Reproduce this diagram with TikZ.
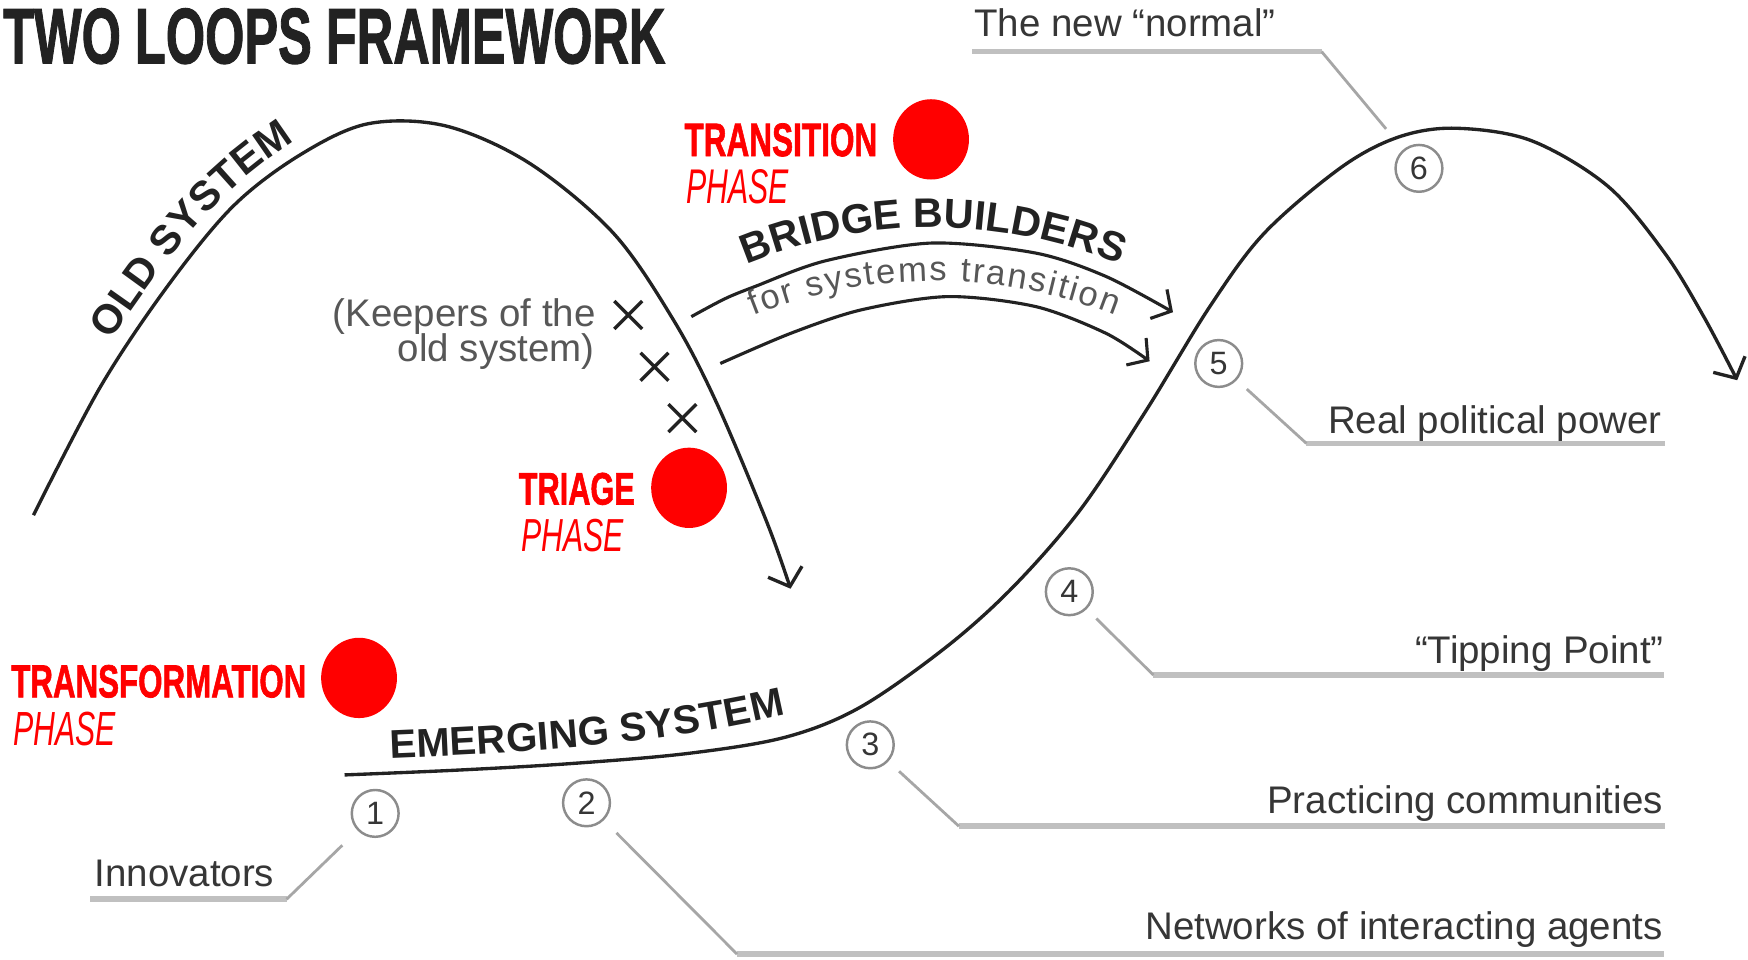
\documentclass[tikz,border=0pt]{standalone}
\usepackage{graphicx}
\usepackage{fontspec}
\setmainfont{Liberation Sans}
\newfontface\heavyface[FakeBold=1.6]{Liberation Sans Bold}
\usetikzlibrary{arrows.meta,decorations.text,shapes.geometric,shapes.misc}
\definecolor{ink}{HTML}{222222}
\definecolor{redph}{HTML}{FF0000}
\definecolor{lbl}{HTML}{363636}
\definecolor{keep}{HTML}{575757}
\definecolor{ring}{HTML}{8C8C8C}
\definecolor{lead}{HTML}{A6A6A6}
\definecolor{uln}{HTML}{C0C0C0}
\newcommand\fsz[1]{\fontsize{#1}{#1}\selectfont}
\begin{document}
\begin{tikzpicture}[x=0.25pt,y=-0.25pt,
  curve/.style={draw=ink, line width=0.75pt, -{Straight Barb[length=3.5pt,width=8pt]}},
  bridge/.style={draw=ink, line width=0.7pt, -{Straight Barb[length=3.25pt,width=7.5pt]}},
  reddot/.style={ellipse, fill=redph, minimum width=17pt, minimum height=18pt, inner sep=0pt},
  redtxt/.style={anchor=base west, inner sep=0pt, text=redph},
  numc/.style={circle, draw=ring, line width=0.55pt, minimum size=10.5pt, inner sep=0pt, font=\fsz{7.25}, text=lbl},
  leader/.style={draw=lead, line width=0.625pt},
  uline/.style={draw=uln, line width=1.25pt},
  lab/.style={inner sep=0pt, font=\fsz{8.625}, text=lbl},
  keeper/.style={inner sep=0pt, font=\fsz{8.625}, text=keep, anchor=base east},
  xmark/.style={cross out, draw=ink, line width=0.75pt, minimum size=5.5pt, inner sep=0pt}
]
\fill[white] (0,0) rectangle (1567.7,860.1);
\useasboundingbox (0,0) rectangle (1567.7,860.1);

% title
\node[anchor=base west, inner sep=0pt, text=ink] (title) at (2,56.8)
  {\resizebox{148.5pt}{12.325pt}{\heavyface TWO LOOPS FRAMEWORK}};

% old system curve
\draw[curve] plot[smooth, tension=0.55] coordinates {(30,462) (90,347) (150,257) (209,185) (269,139) (330,111) (400,113) (475,146.5) (550,209) (604,287) (643,362) (688,469) (709,528)};
\path[decorate, decoration={text along path, text align=left, raise=3.5pt, text color=ink,
  text={|\fsz{9.25}\bfseries|OLD SYSTEM}}]
  (111,313) .. controls (173.7,222.8) and (205.4,176) .. (300,121);

% emerging system curve
\draw[curve] plot[smooth, tension=0.55] coordinates {(309,695) (412,690.6) (515,684.6) (618,675.6) (705,661) (772,634) (849,580) (909,526) (969,457) (1028,368) (1085,275) (1134,209) (1203,150) (1254,123) (1305,115) (1373,126) (1442,167) (1493,227) (1528,284) (1558,341)};
\path[decorate, decoration={text along path, text align=fit to path, text color=ink,
  text={|\fsz{9}\bfseries|EMERGING SYSTEM}}]
  (350,680) .. controls (470,675) and (585,668.6) .. (705,641);

% bridge builders
\draw[bridge] plot[smooth] coordinates {(620,284) (650,268) (677,257) (740,234) (835,218) (929,227) (992,248) (1052,280)};
\draw[bridge] plot[smooth] coordinates {(646,326) (709,299) (772,278) (850,266) (929,275) (992,299) (1031,324)};
\path[decorate, decoration={text along path, text align=center, text color=ink,
  text={|\fsz{9.25}\bfseries|BRIDGE BUILDERS}}]
  (652.3,245) .. controls (769.4,190.4) and (904.6,190.4) .. (1021.7,245);
\path[decorate, decoration={text along path, text align=fit to path, text color=keep,
  text={|\fsz{7.75}|for systems transition}}]
  (675.7,283) .. controls (780,241.7) and (896,241.7) .. (1000.3,283);

% keepers
\node[keeper] (k1) at (535,293) {(Keepers of the};
\node[keeper] (k2) at (534,324) {old system)};
\node[xmark] (x1) at (563.5,282.5) {};
\node[xmark] (x2) at (587,329) {};
\node[xmark] (x3) at (612,375) {};

% red phases
\node[reddot] (d1) at (835,125) {};
\node[reddot] (d2) at (618,437.5) {};
\node[reddot] (d3) at (322,608) {};
\node[redtxt] (p1) at (613,140) {\resizebox{43.25pt}{7.35pt}{\heavyface TRANSITION}};
\node[redtxt] (p1b) at (614.5,182.9) {\resizebox{23pt}{7.625pt}{\itshape PHASE}};
\node[redtxt] (p2) at (464.5,452.5) {\resizebox{26pt}{7.125pt}{\heavyface TRIAGE}};
\node[redtxt] (p2b) at (466.5,494.8) {\resizebox{23pt}{7.25pt}{\itshape PHASE}};
\node[redtxt] (p3) at (9.3,625.4) {\resizebox{66.15pt}{7.25pt}{\heavyface TRANSFORMATION}};
\node[redtxt] (p3b) at (11.3,668.2) {\resizebox{23pt}{7.5pt}{\itshape PHASE}};

% numbered circles
\node[numc] (n1) at (336.5,729.5) {1};
\node[numc] (n2) at (526,720) {2};
\node[numc] (n3) at (780.5,668) {3};
\node[numc] (n4) at (959,530.7) {4};
\node[numc] (n5) at (1093,326) {5};
\node[numc] (n6) at (1272.6,151) {6};

% leader elbows and ends
\coordinate (e1) at (257,806.5);   \coordinate (u1) at (81,806.5);
\coordinate (e2) at (661,855.7);   \coordinate (u2) at (1492,855.7);
\coordinate (e3) at (860,741);     \coordinate (u3) at (1493,741);
\coordinate (e4) at (1034.4,605.4);\coordinate (u4) at (1492,605.4);
\coordinate (e5) at (1171.7,397.7);\coordinate (u5) at (1493,397.7);
\coordinate (e6) at (1185.3,46.3); \coordinate (u6) at (872,46.3);

\draw[uline] (e1) -- (u1);
\draw[uline] (e2) -- (u2);
\draw[uline] (e3) -- (u3);
\draw[uline] (e4) -- (u4);
\draw[uline] (e5) -- (u5);
\draw[uline] (e6) -- (u6);
\draw[leader, shorten <=4.75pt] (n1) -- (e1);
\draw[leader, shorten <=4pt] (n2) -- (e2);
\draw[leader, shorten <=3.25pt] (n3) -- (e3);
\draw[leader, shorten <=3pt] (n4) -- (e4);
\draw[leader, shorten <=3pt] (n5) -- (e5);
\draw[leader, shorten <=6pt] (n6) -- (e6);

% labels
\node[lab, anchor=base west] (L1) at (84,795) {Innovators};
\node[lab, anchor=base east] (L2) at (1492,843) {Networks of interacting agents};
\node[lab, anchor=base east] (L3) at (1492,729.5) {Practicing communities};
\node[lab, anchor=base east] (L4) at (1493,595) {“Tipping Point”};
\node[lab, anchor=base east] (L5) at (1491,388.7) {Real political power};
\node[lab, anchor=base west] (L6) at (873,33) {The new “normal”};
\end{tikzpicture}
\end{document}
